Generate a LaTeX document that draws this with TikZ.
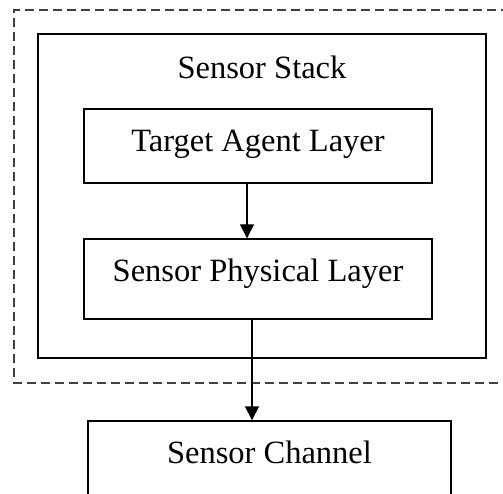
\documentclass[tikz,border=0pt]{standalone}
\usepackage{fontspec}
\setmainfont{Liberation Serif}
\usetikzlibrary{arrows.meta}
\begin{document}
\begin{tikzpicture}[x=1pt,y=-1pt,
  box/.style={draw=black,line width=1.4pt,rectangle,inner sep=0pt,font=\fontsize{32.5}{38}\selectfont},
  lbl/.style={inner sep=0pt,font=\fontsize{32.5}{38}\selectfont},
  arr/.style={draw=black,line width=1.4pt,-{Triangle[length=14pt,width=14pt]}},
  grp/.style={draw=black!75,line width=1.1pt,dash pattern=on 9pt off 5pt}]
\useasboundingbox (0,0) rectangle (503,494);
% dashed group outline (right side outside the picture)
\draw[grp] (510,10) -- (14,10) -- (14,383) -- (510,383);
% sensor stack
\node[box,minimum width=448pt,minimum height=324pt] (stack) at (262,196) {};
\node[lbl] (stacklbl) at (262,67) {Sensor Stack};
\node[box,minimum width=348pt,minimum height=74pt,text depth=10pt] (target) at (258,146) {Target Agent Layer};
\node[box,minimum width=348pt,minimum height=80pt,text depth=18pt] (phys) at (258,279) {Sensor Physical Layer};
\node[box,minimum width=363pt,minimum height=80pt,text depth=18pt] (channel) at (269.5,461) {Sensor Channel};
\draw[arr] ([xshift=-11pt]target.south) -- ([xshift=-11pt]phys.north);
\draw[arr] ([xshift=-6pt]phys.south) -- ([xshift=-17.5pt]channel.north);
\end{tikzpicture}
\end{document}
